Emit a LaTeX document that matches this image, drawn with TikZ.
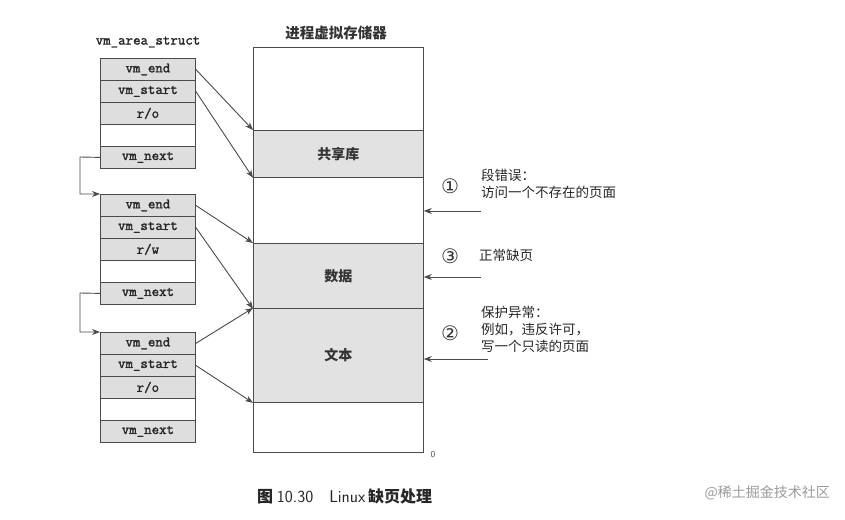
\documentclass[tikz,border=0pt]{standalone}
\usepackage{fontspec}
\setmainfont{Liberation Serif}
\newfontfamily\cjk{Noto Sans CJK SC}
\newfontfamily\monof{Latin Modern Mono}[FakeBold=1.6]
\newfontfamily\symf{DejaVu Sans}
\usetikzlibrary{arrows.meta}
\definecolor{linec}{HTML}{4A4A4A}
\definecolor{fldgray}{HTML}{DEDEDE}
\definecolor{memgray}{HTML}{E2E2E2}
\definecolor{wmgray}{HTML}{9A9A9A}
\tikzset{
  fld/.style={draw=linec, line width=0.8pt, fill=fldgray, minimum width=95pt, minimum height=22pt,
    inner sep=0pt, anchor=north west, font=\monof\fontsize{14.5}{14.5}\selectfont, text=black!85},
  fldw/.style={fld, fill=white},
  mem/.style={draw=linec, line width=0.8pt, fill=white, minimum width=170pt, inner sep=0pt,
    anchor=north west, font=\cjk\bfseries\fontsize{14}{14}\selectfont, text=black!80},
  memg/.style={mem, fill=memgray},
  arr/.style={draw=linec, line width=0.9pt, -{Stealth[length=8pt,width=6pt]}},
  lbl/.style={font=\cjk\fontsize{13.5}{17}\selectfont, text=black!85, anchor=west, align=left, inner sep=0pt},
  circ/.style={font=\symf\fontsize{20}{20}\selectfont, text=black!80, inner sep=0pt}
}
\begin{document}
\begin{tikzpicture}[x=1pt,y=-1pt]
\useasboundingbox (0,0) rectangle (845,519);
% struct title
\node[font=\monof\fontsize{14.5}{14.5}\selectfont, text=black!85] (st) at (148,42) {vm\_area\_struct};
% struct 1
\node[fld] (s1e) at (100,58) {vm\_end};
\node[fld] (s1s) at (100,80) {vm\_start};
\node[fld] (s1p) at (100,102) {r/o};
\node[fldw] (s1b) at (100,124) {};
\node[fld] (s1n) at (100,146) {vm\_next};
% struct 2
\node[fld] (s2e) at (100,194) {vm\_end};
\node[fld] (s2s) at (100,216) {vm\_start};
\node[fld] (s2p) at (100,238) {r/w};
\node[fldw] (s2b) at (100,260) {};
\node[fld] (s2n) at (100,282) {vm\_next};
% struct 3
\node[fld] (s3e) at (100,332) {vm\_end};
\node[fld] (s3s) at (100,354) {vm\_start};
\node[fld] (s3p) at (100,376) {r/o};
\node[fldw] (s3b) at (100,398) {};
\node[fld] (s3n) at (100,420) {vm\_next};
% next links
\draw[arr] (s1n.west) -- (80,157) -- (80,194) -- (s2e.north west);
\draw[arr] (s2n.west) -- (80,293) -- (80,332) -- (s3e.north west);
% memory
\node[font=\cjk\bfseries\fontsize{14.5}{14.5}\selectfont, text=black!80] (mt) at (336,33) {进程虚拟存储器};
\node[mem, minimum height=83pt] (m0) at (253,47) {};
\node[memg, minimum height=47pt] (mlib) at (253,130) {共享库};
\node[mem, minimum height=66pt] (mgap) at (253,177) {};
\node[memg, minimum height=65pt] (mdata) at (253,243) {数据};
\node[memg, minimum height=94pt] (mtext) at (253,308) {文本};
\node[mem, minimum height=50pt] (mbot) at (253,402) {};
\node[font=\sffamily\fontsize{9}{9}\selectfont, text=black!70] (zero) at (433,455) {0};
% area arrows
\draw[arr] (s1e.east) -- (mlib.north west);
\draw[arr] (s1s.east) -- (mlib.south west);
\draw[arr] (s2e.east) -- (mdata.north west);
\draw[arr] (s2s.east) -- (mdata.south west);
\draw[arr] (s3e.east) -- (mtext.north west);
\draw[arr] (s3s.east) -- (mtext.south west);
% fault arrows
\coordinate (r1) at (481,211);
\coordinate (r3) at (481,277);
\coordinate (r2) at (488,359);
\draw[arr] (r1) -- (r1 -| mgap.east);
\draw[arr] (r3) -- (r3 -| mdata.east);
\draw[arr] (r2) -- (r2 -| mtext.east);
% labels
\node[circ] (c1) at (450,186) {①};
\node[lbl] (t1) at (481,184) {段错误：\\访问一个不存在的页面};
\node[circ] (c3) at (450,256) {③};
\node[lbl] (t3) at (479,255) {正常缺页};
\node[circ] (c2) at (450,333) {②};
\node[lbl] (t2) at (481,329) {保护异常：\\例如，违反许可，\\写一个只读的页面};
% caption
\node[font=\cjk\bfseries\fontsize{16}{16}\selectfont, text=black!85, anchor=west, inner sep=0pt] (cap) at (257,496)
  {图 {\sffamily\mdseries\fontsize{17}{17}\selectfont 10.30}\hspace{16pt}{\sffamily\mdseries\fontsize{17}{17}\selectfont Linux}\,缺页处理};
\node[font=\cjk\fontsize{14}{14}\selectfont, text=wmgray, anchor=east, inner sep=0pt] (wm) at (830,493) {@稀土掘金技术社区};
\end{tikzpicture}
\end{document}
